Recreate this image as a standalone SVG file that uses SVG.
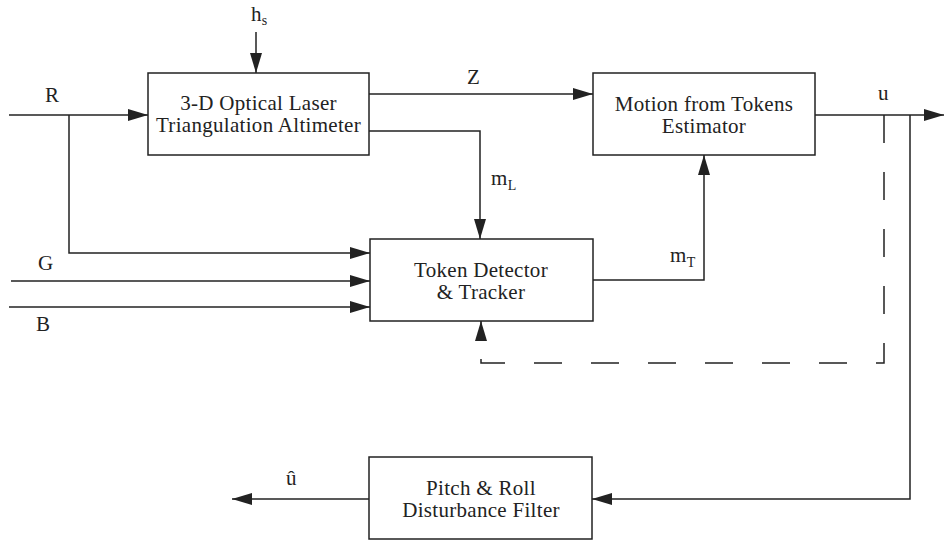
<svg xmlns="http://www.w3.org/2000/svg" width="944" height="540" viewBox="0 0 944 540">
<style>
.box{fill:#fff;stroke:#222;stroke-width:1.5}
.ln{fill:none;stroke:#222;stroke-width:1.5}
.ar{marker-end:url(#ah)}
.dash{stroke-dasharray:28 29}
text{font-family:"Liberation Serif","Times New Roman",serif;font-size:21px;letter-spacing:0.3px;fill:#222}
.c{text-anchor:middle}
.sub{font-size:14px}
</style>
<defs>
<marker id="ah" markerUnits="userSpaceOnUse" markerWidth="20" markerHeight="12" refX="20" refY="6" orient="auto">
<path d="M0,0 L20,6 L0,12 z" fill="#222"/>
</marker>
</defs>
<g id="connectors">
<path class="ln ar" d="M256,32 V73"/>
<path class="ln ar" d="M9,115 H148"/>
<path class="ln ar" d="M69,115 V253 H370"/>
<path class="ln ar" d="M11,281 H370"/>
<path class="ln ar" d="M9,307 H370"/>
<path class="ln ar" d="M369,94 H593"/>
<path class="ln ar" d="M369,131 H480 V239"/>
<path class="ln ar" d="M593,280 H704 V155"/>
<path class="ln ar" d="M815,115 H944"/>
<path class="ln dash ar" d="M884,115 V363 H481 V321"/>
<path class="ln ar" d="M910,115 V499 H592"/>
<path class="ln ar" d="M369,499 H232"/>
</g>
<g id="labels">
<text x="251" y="21">h<tspan class="sub" dy="4">s</tspan></text>
<text x="45" y="102">R</text>
<text x="38" y="270">G</text>
<text x="36" y="331">B</text>
<text x="467" y="84">Z</text>
<text x="491" y="185">m<tspan class="sub" dy="5">L</tspan></text>
<text x="670" y="262">m<tspan class="sub" dy="5">T</tspan></text>
<text x="878" y="100">u</text>
<text x="286" y="485">û</text>
</g>
<g id="altimeter">
<rect class="box" x="148" y="73" width="221" height="82"/>
<text class="c" x="258.5" y="110">3-D Optical Laser</text>
<text class="c" x="258.5" y="132">Triangulation Altimeter</text>
</g>
<g id="motion">
<rect class="box" x="593" y="73" width="222" height="82"/>
<text class="c" x="704" y="111">Motion from Tokens</text>
<text class="c" x="704" y="133">Estimator</text>
</g>
<g id="token">
<rect class="box" x="370" y="239" width="223" height="82"/>
<text class="c" x="481" y="277">Token Detector</text>
<text class="c" x="481" y="299">&amp; Tracker</text>
</g>
<g id="filter">
<rect class="box" x="369" y="457" width="223" height="82"/>
<text class="c" x="481" y="495">Pitch &amp; Roll</text>
<text class="c" x="481" y="517">Disturbance Filter</text>
</g>
</svg>
